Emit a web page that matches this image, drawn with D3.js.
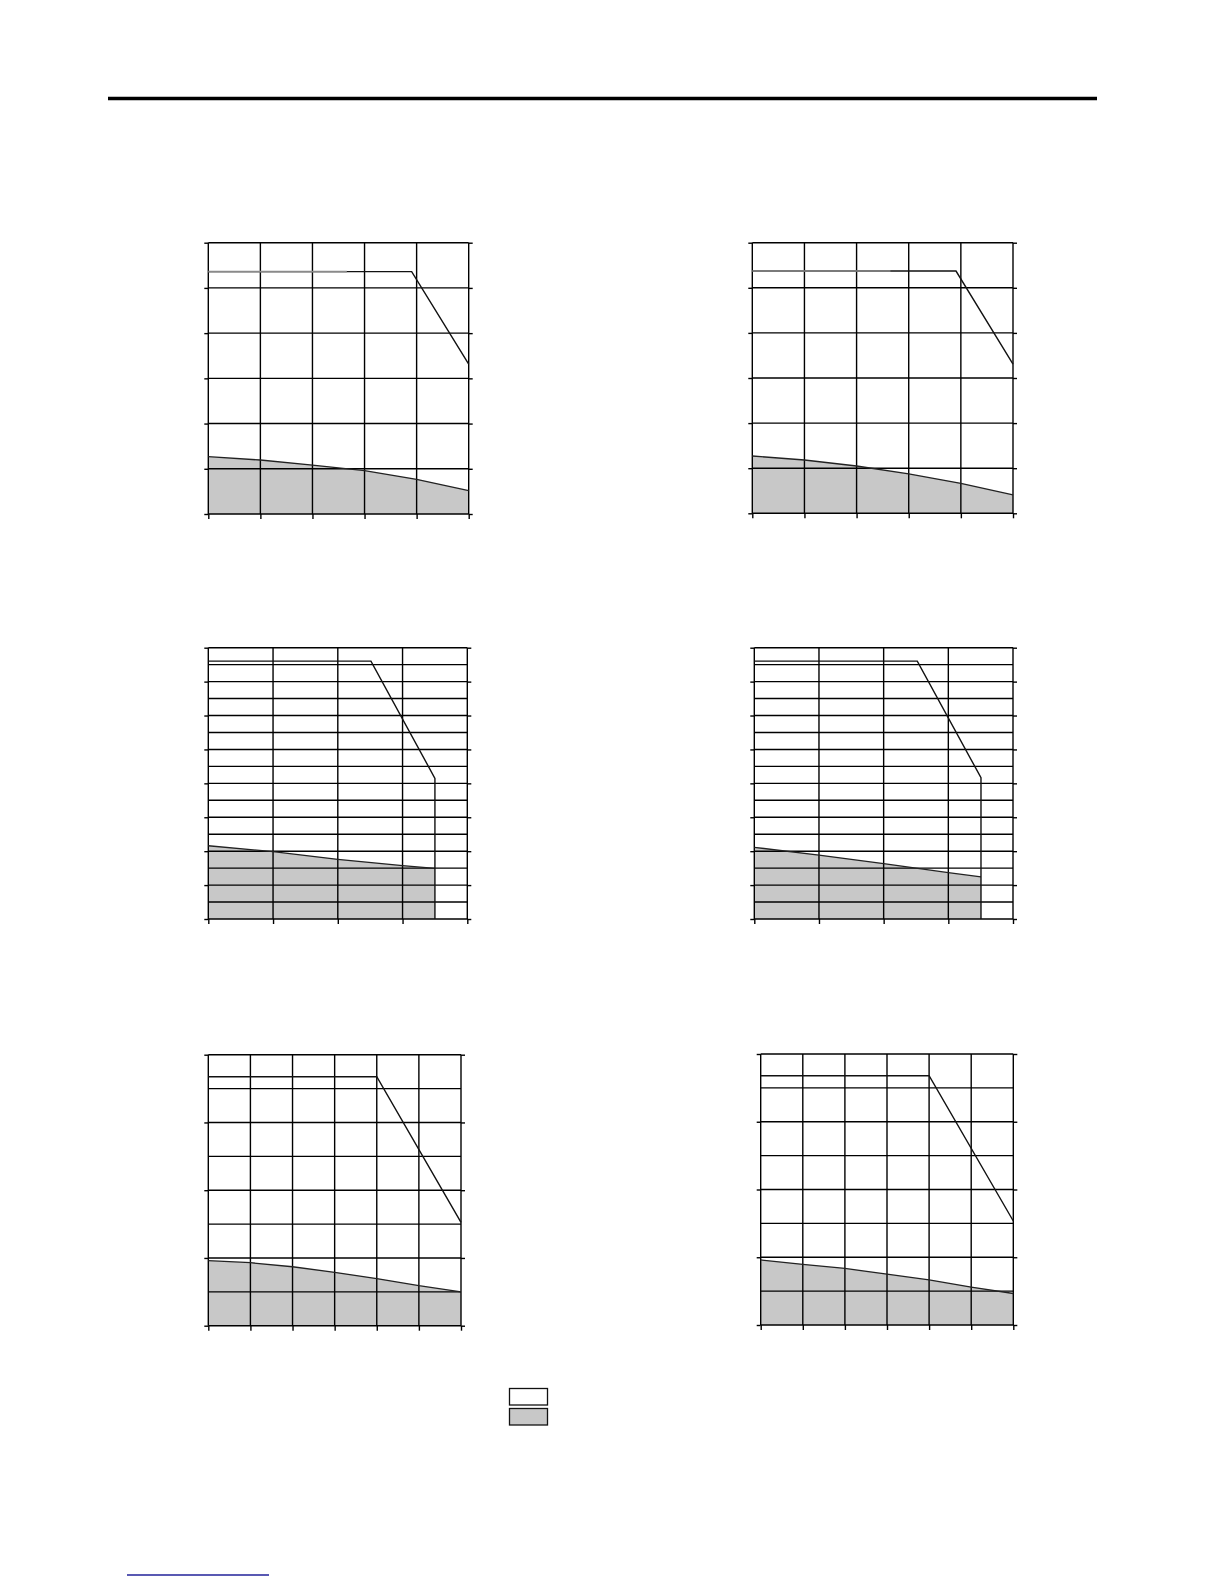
<!DOCTYPE html>
<html>
<head>
<meta charset="UTF-8">
<script src="https://d3js.org/d3.v7.min.js"></script>
<style>
  body { margin: 0; background: #fff; }
  svg { display: block; }
  .grid line { stroke: #000; stroke-width: 1.4px; }
  .axis line { stroke: #000; stroke-width: 1.4px; }
  .upper { fill: none; stroke: #111; stroke-width: 1.4px; }
  .lower { fill: #c8c8c8; stroke: none; }
  .lowerEdge { fill: none; stroke: #222; stroke-width: 1.3px; }
</style>
</head>
<body>
<svg id="page" width="1224" height="1584"></svg>
<script>
// x steps (grid columns) and y steps (grid rows) per chart row
const xStepsTop = [0, 1, 2, 3, 4, 5];
const yStepsTop = [0, 1, 2, 3, 4, 5, 6];
const yTicksTop = [0, 1, 2, 3, 4, 5, 6];
const xStepsMid = [0, 1, 2, 3, 4];
const yStepsMid = d3.range(0, 17);
const yTicksMid = [0, 2, 4, 6, 8, 10, 12, 14, 16];
const xStepsBot = [0, 1, 2, 3, 4, 5, 6];
const yStepsBot = [0, 1, 2, 3, 4, 5, 6, 7, 8];
const yTicksBot = [0, 2, 4, 6, 8];

// upper (white) limit curves and lower (grey) area curves
const upperTL = [[0, 5.36], [3.905, 5.36], [5, 3.317]];
const fadedTL = [[0, 5.36], [2.66, 5.36]];
const lowerTL = [[0, 1.268], [1, 1.194], [2, 1.083], [3, 0.958], [4, 0.767], [5, 0.516]];

const upperTR = [[0, 5.372], [3.907, 5.372], [5, 3.31]];
const fadedTR = [[0, 5.372], [2.65, 5.372]];
const lowerTR = [[0, 1.271], [1, 1.182], [2, 1.049], [3, 0.872], [4, 0.665], [5, 0.406]];

const upperML = [[0, 15.21], [2.512, 15.21], [3.5, 8.295], [3.5, 0]];
const lowerML = [[0, 4.32], [1, 3.97], [2, 3.52], [3, 3.145], [3.5, 2.99]];

const upperMR = [[0, 15.21], [2.52, 15.21], [3.505, 8.33], [3.505, 0]];
const lowerMR = [[0, 4.226], [1, 3.77], [2, 3.26], [3, 2.73], [3.505, 2.48]];

const upperBL = [[0, 7.35], [4, 7.35], [6, 3.05]];
const lowerBL = [[0, 1.92], [1, 1.86], [2, 1.74], [3, 1.575], [4, 1.39], [5, 1.18], [6, 1.0]];

const upperBR = [[0, 7.36], [4, 7.36], [6, 3.07]];
const lowerBR = [[0, 1.92], [1, 1.79], [2, 1.67], [3, 1.50], [4, 1.33], [5, 1.12], [6, 0.93]];

const legendFills = ["#ffffff", "#c8c8c8"];

const svg = d3.select("#page");

// heading rule and footer link underline
svg.append("line")
  .attr("x1", 108).attr("x2", 1097)
  .attr("y1", 98.5).attr("y2", 98.5)
  .attr("stroke", "#000").attr("stroke-width", 3.5);

svg.append("line")
  .attr("x1", 127).attr("x2", 269)
  .attr("y1", 1575).attr("y2", 1575)
  .attr("stroke", "#22229a").attr("stroke-width", 1.3);

const panels = [
  { x0: 208.3, x1: 468.7, y0: 242.7, y1: 514, xs: xStepsTop, ys: yStepsTop, yt: yTicksTop, up: upperTL, lo: lowerTL, faded: fadedTL },
  { x0: 752.3, x1: 1013, y0: 242.7, y1: 513.3, xs: xStepsTop, ys: yStepsTop, yt: yTicksTop, up: upperTR, lo: lowerTR, faded: fadedTR },
  { x0: 208.3, x1: 467.3, y0: 647.7, y1: 919, xs: xStepsMid, ys: yStepsMid, yt: yTicksMid, up: upperML, lo: lowerML },
  { x0: 754.3, x1: 1013, y0: 647.7, y1: 919, xs: xStepsMid, ys: yStepsMid, yt: yTicksMid, up: upperMR, lo: lowerMR },
  { x0: 208.3, x1: 461, y0: 1054.7, y1: 1325.7, xs: xStepsBot, ys: yStepsBot, yt: yTicksBot, up: upperBL, lo: lowerBL },
  { x0: 760.7, x1: 1013.3, y0: 1054, y1: 1325, xs: xStepsBot, ys: yStepsBot, yt: yTicksBot, up: upperBR, lo: lowerBR }
];

panels.forEach(p => {
  const x = d3.scaleLinear().domain(d3.extent(p.xs)).range([p.x0, p.x1]);
  const y = d3.scaleLinear().domain(d3.extent(p.ys)).range([p.y1, p.y0]);
  const g = svg.append("g");

  // grey area first so grid lines sit on top of it
  g.append("path")
    .datum(p.lo)
    .attr("class", "lower")
    .attr("d", d3.area().x(d => x(d[0])).y0(y(0)).y1(d => y(d[1])));

  const grid = g.append("g").attr("class", "grid");
  grid.selectAll(".v").data(p.xs).join("line")
    .attr("x1", d => x(d)).attr("x2", d => x(d))
    .attr("y1", y.range()[0]).attr("y2", y.range()[1]);
  grid.selectAll(".h").data(p.ys).join("line")
    .attr("y1", d => y(d)).attr("y2", d => y(d))
    .attr("x1", x.range()[0]).attr("x2", x.range()[1]);

  // tick marks only; the outer grid lines already form the frame
  g.append("g").attr("class", "axis")
    .attr("transform", `translate(${p.x0},0)`)
    .call(d3.axisLeft(y).tickValues(p.yt).tickSize(4).tickSizeOuter(0).tickFormat(""))
    .call(a => a.select(".domain").remove());
  g.append("g").attr("class", "axis")
    .attr("transform", `translate(${p.x1},0)`)
    .call(d3.axisRight(y).tickValues(p.yt).tickSize(4).tickSizeOuter(0).tickFormat(""))
    .call(a => a.select(".domain").remove());
  g.append("g").attr("class", "axis")
    .attr("transform", `translate(0,${p.y1})`)
    .call(d3.axisBottom(x).tickValues(p.xs).tickSize(5).tickSizeOuter(0).tickFormat(""))
    .call(a => a.select(".domain").remove());

  const line = d3.line().x(d => x(d[0])).y(d => y(d[1]));

  g.append("path").datum(p.lo).attr("class", "lowerEdge").attr("d", line);
  g.append("path").datum(p.up).attr("class", "upper").attr("d", line);
  if (p.faded) {
    g.append("path").datum(p.faded)
      .attr("fill", "none").attr("stroke", "#8a8a8a").attr("stroke-width", 1.6)
      .attr("d", line);
  }
});

// legend swatches
svg.append("g").selectAll("rect").data(legendFills).join("rect")
  .attr("x", 509.5)
  .attr("y", (d, i) => 1388.5 + i * 20)
  .attr("width", 38)
  .attr("height", 16.5)
  .attr("fill", d => d)
  .attr("stroke", "#111")
  .attr("stroke-width", 1.3);
</script>
</body>
</html>
